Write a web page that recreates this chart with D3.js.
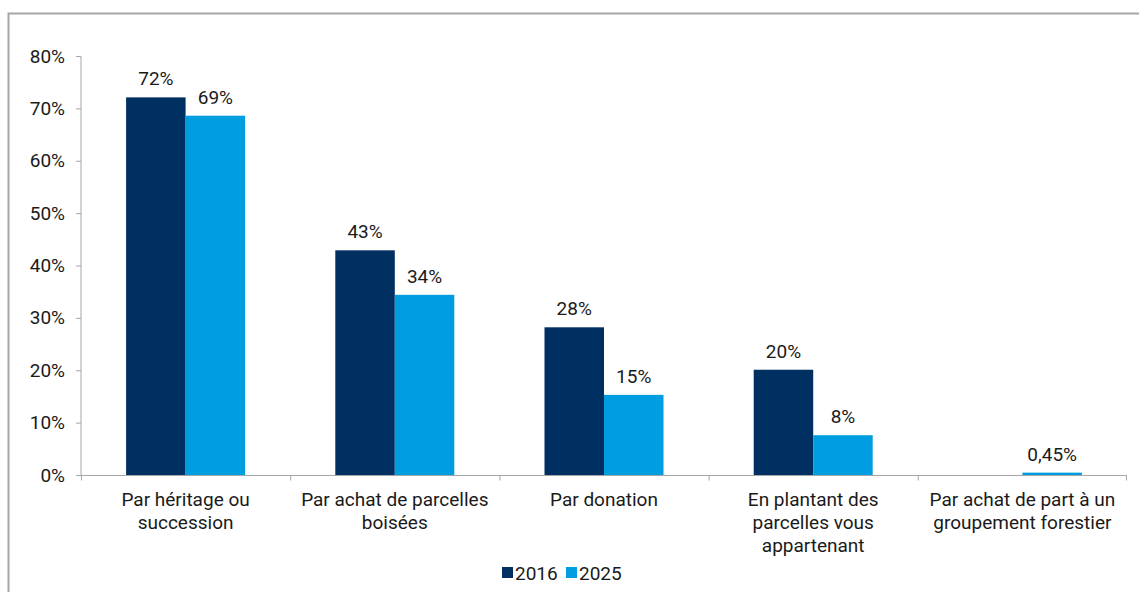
<!DOCTYPE html>
<html><head><meta charset="utf-8">
<script src="https://cdn.jsdelivr.net/npm/d3@7"></script>
<style>body{margin:0;background:#fff}svg{display:block;font-family:Roboto,sans-serif}</style>
</head><body>
<svg id="c" width="1139" height="592"></svg>
<script>
const categories = [
  ["Par héritage ou","succession"],
  ["Par achat de parcelles","boisées"],
  ["Par donation"],
  ["En plantant des","parcelles vous","appartenant"],
  ["Par achat de part à un","groupement forestier"]
];
const series = ["2016","2025"];
const values2016 = [72.1, 42.9, 28.2, 20.1, null];
const values2025 = [68.6, 34.4, 15.3, 7.6, 0.45];
const labels2016 = ["72%","43%","28%","20%",""];
const labels2025 = ["69%","34%","15%","8%","0,45%"];
const yTicks = [0,10,20,30,40,50,60,70,80];
const colors = ["#002f62","#009ee0"];
const FS = 19;

const svg = d3.select("#c");
svg.append("path").attr("d","M8.5,592 V13.5 H1139").attr("fill","none").attr("stroke","#a6a6a6").attr("stroke-width",2);

const x0 = d3.scaleBand().domain(d3.range(categories.length)).range([81,1127]).paddingInner(0).paddingOuter(0);
const x1 = d3.scaleBand().domain(series).range([0,x0.bandwidth()]).paddingInner(0).paddingOuter(0.758);
const y = d3.scaleLinear().domain([0,80]).range([475,56]);

const yAx = svg.append("g").attr("transform","translate(81,0)")
  .call(d3.axisLeft(y).tickValues(yTicks).tickFormat(d=>d+"%").tickSize(5).tickPadding(11));
yAx.select(".domain").attr("stroke","#a6a6a6").attr("d","M0,56.5V475.5");
yAx.selectAll(".tick line").attr("stroke","#a6a6a6");
yAx.selectAll("text").attr("font-size",FS).attr("fill","#1a1a1a").attr("font-family","Roboto");

const xAx = svg.append("g").attr("transform","translate(0,475.5)");
xAx.append("line").attr("x1",81).attr("x2",x0.range()[1]).attr("stroke","#a6a6a6");
const bounds = d3.range(categories.length+1).map(i=> i<categories.length ? x0(i) : x0.range()[1]-1);
xAx.selectAll("line.t").data(bounds).join("line").attr("class","t")
  .attr("x1",d=>d+0.5).attr("x2",d=>d+0.5).attr("y1",0).attr("y2",5).attr("stroke","#a6a6a6");

const data = categories.map((c,i)=>({i, vals:[values2016[i],values2025[i]], labs:[labels2016[i],labels2025[i]]}));
const g = svg.selectAll("g.cat").data(data).join("g").attr("class","cat")
  .attr("transform",d=>`translate(${x0(d.i)},0)`);
series.forEach((s,k)=>{
  g.filter(d=>d.vals[k]!=null).append("rect")
    .attr("x",x1(s)).attr("width",x1.bandwidth())
    .attr("y",d=>y(d.vals[k])).attr("height",d=>y(0)-y(d.vals[k]))
    .attr("fill",colors[k]);
  g.filter(d=>d.vals[k]!=null).append("text")
    .attr("x",x1(s)+x1.bandwidth()/2).attr("y",d=>y(d.vals[k])-12)
    .attr("text-anchor","middle").attr("font-size",FS).attr("fill","#1a1a1a")
    .text(d=>d.labs[k]);
});

categories.forEach((lines,i)=>{
  const t = svg.append("text").attr("text-anchor","middle").attr("font-size",FS).attr("fill","#1a1a1a")
    .attr("x",x0(i)+x0.bandwidth()/2).attr("y",506);
  lines.forEach((l,j)=>t.append("tspan").attr("x",x0(i)+x0.bandwidth()/2).attr("dy",j?23:0).text(l));
});

const leg = svg.append("g").attr("transform","translate(502,573)");
let lx=0;
series.forEach((s,k)=>{
  leg.append("rect").attr("x",lx).attr("y",-6).attr("width",11).attr("height",11).attr("fill",colors[k]);
  leg.append("text").attr("x",lx+13).attr("y",6.5).attr("font-size",FS).attr("fill","#1a1a1a").text(s);
  lx+=64;
});
</script>
</body></html>
